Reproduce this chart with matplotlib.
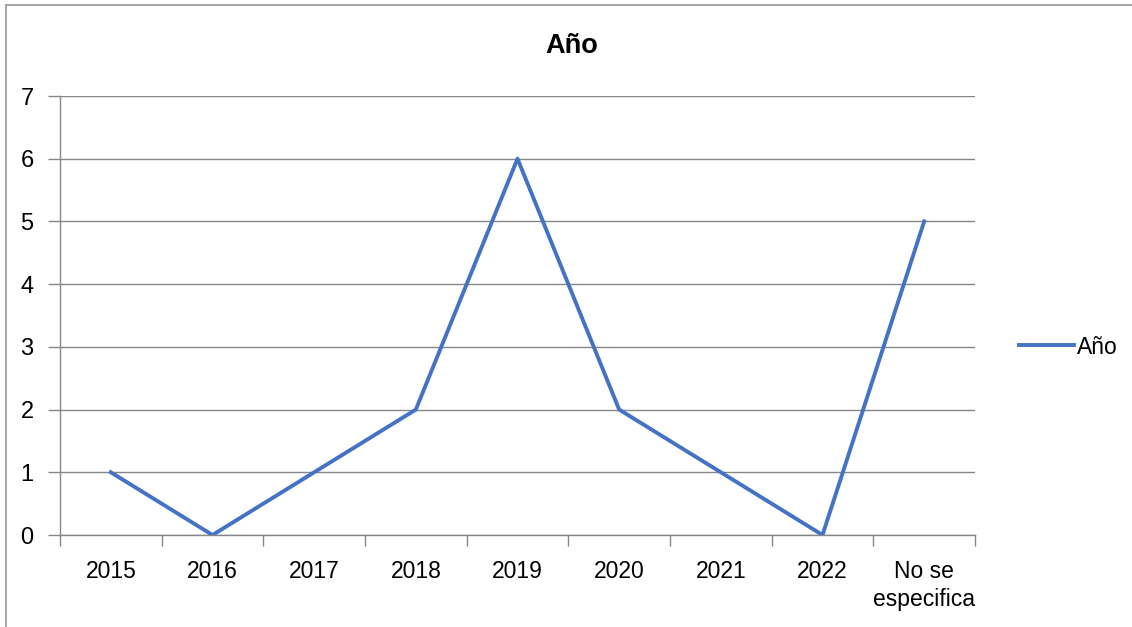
import matplotlib.pyplot as plt
from matplotlib.lines import Line2D
from matplotlib.ticker import FixedLocator

categories = ['2015', '2016', '2017', '2018', '2019', '2020', '2021', '2022', 'No se\nespecifica']
values = [1, 0, 1, 2, 6, 2, 1, 0, 5]
series_name = 'Año'
y_ticks = [0, 1, 2, 3, 4, 5, 6, 7]

FONT = ['Liberation Sans Narrow', 'Liberation Sans', 'DejaVu Sans']
plt.rcParams['font.family'] = FONT

W, H = 1132, 627
fig = plt.figure(figsize=(W / 100, H / 100), dpi=100)

# outer chart frame (cut off at right and bottom like the original)
fig.add_artist(Line2D([6 / W, 1], [1 - 5 / H, 1 - 5 / H], color='#a6a6a6', lw=1.4))
fig.add_artist(Line2D([6 / W, 6 / W], [0, 1 - 5 / H], color='#a6a6a6', lw=1.4))

ax = fig.add_axes([60 / W, 1 - 535 / H, (975 - 60) / W, (535 - 96) / H])
x = list(range(len(categories)))
line, = ax.plot(x, values, color='#4472C4', lw=2.8, label=series_name,
                solid_joinstyle='round', zorder=3)

ax.set_xlim(-0.5, len(categories) - 0.5)
ax.set_ylim(0, 7)
ax.set_yticks(y_ticks)
ax.set_xticks(x)
ax.set_xticklabels(categories, fontsize=16.5, linespacing=1.3)
ax.tick_params(axis='x', which='major', length=0, pad=18)
ax.xaxis.set_minor_locator(FixedLocator([i - 0.5 for i in range(len(categories) + 1)]))
ax.tick_params(axis='x', which='minor', length=8, color='#868686', width=1)
ax.tick_params(axis='y', length=9, color='#868686', width=1, labelsize=17, pad=10)

ax.grid(axis='y', color='#868686', lw=1)
for s in ['top', 'right']:
    ax.spines[s].set_visible(False)
for s in ['left', 'bottom']:
    ax.spines[s].set_color('#868686')
    ax.spines[s].set_linewidth(1)
ax.set_axisbelow(True)

fig.text(572 / W, 1 - 46 / H, series_name, ha='center', va='center',
         fontsize=19.5, fontweight='bold')

fig.legend(handles=[line], loc='center left', bbox_to_anchor=(1010 / W, 1 - 347 / H),
           frameon=False, fontsize=16.5, handlelength=2.4, handletextpad=0.1,
           borderaxespad=0)

fig.savefig('out.png', dpi=100)
